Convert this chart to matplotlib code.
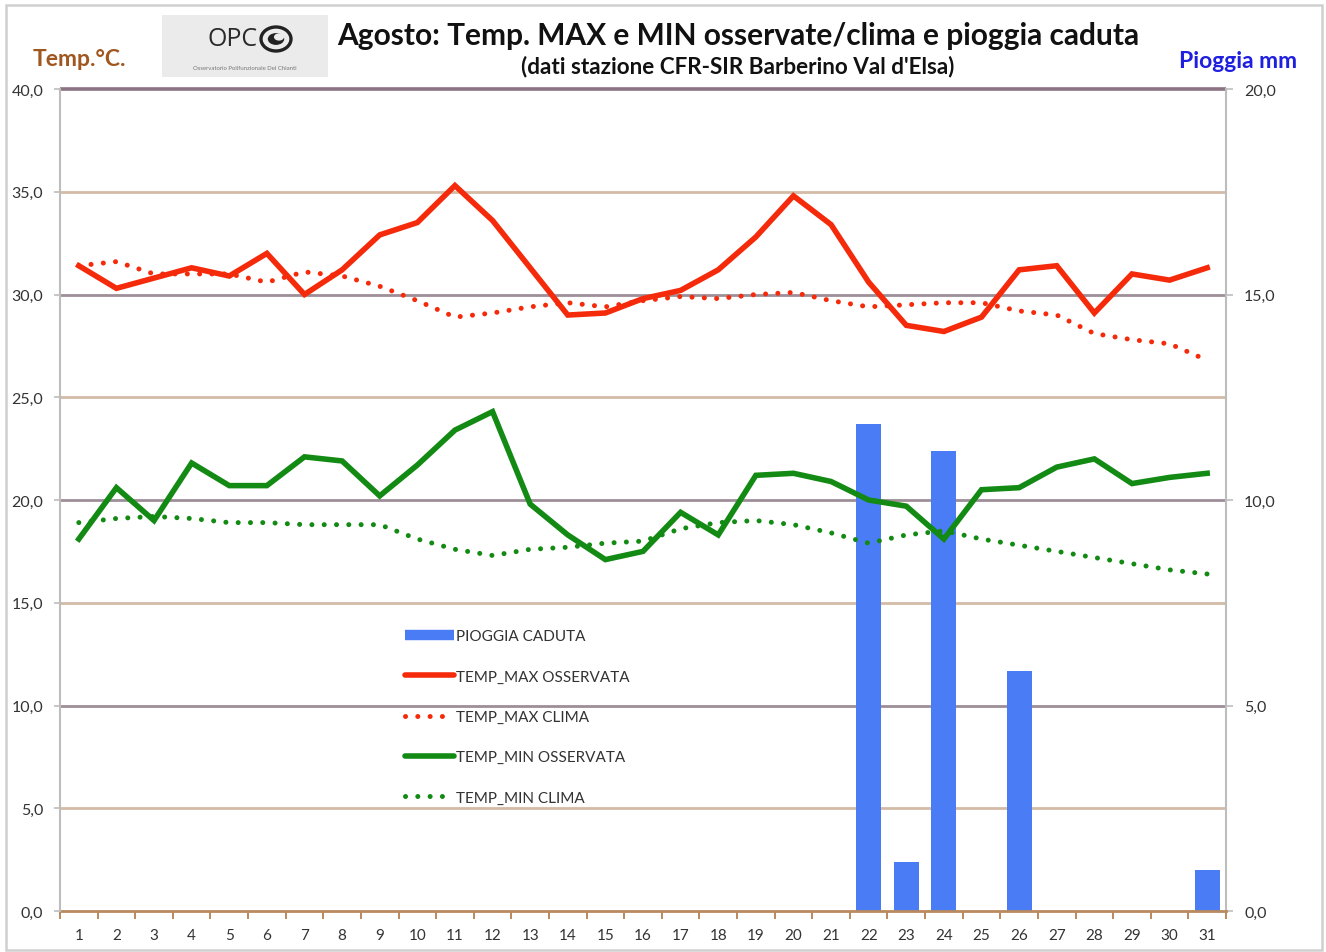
import matplotlib
matplotlib.use("Agg")
import matplotlib.pyplot as plt
import matplotlib.patches as mpatches
from matplotlib.lines import Line2D
from matplotlib.transforms import blended_transform_factory
import numpy as np

# ---------------- data ----------------
days = list(range(1, 32))
tmax_obs = [31.4, 30.3, 30.8, 31.3, 30.9, 32.0, 30.0, 31.2, 32.9, 33.5, 35.3, 33.6, 31.3, 29.0, 29.1,
            29.8, 30.2, 31.2, 32.8, 34.8, 33.4, 30.6, 28.5, 28.2, 28.9, 31.2, 31.4, 29.1, 31.0, 30.7, 31.3]
tmax_clima = [31.4, 31.6, 31.0, 31.0, 31.0, 30.6, 31.1, 30.9, 30.4, 29.7, 28.9, 29.1, 29.4, 29.6, 29.4,
              29.7, 29.9, 29.8, 30.0, 30.1, 29.7, 29.4, 29.5, 29.6, 29.6, 29.2, 29.0, 28.1, 27.8, 27.6, 26.8]
tmin_obs = [18.1, 20.6, 19.0, 21.8, 20.7, 20.7, 22.1, 21.9, 20.2, 21.7, 23.4, 24.3, 19.8, 18.3, 17.1,
            17.5, 19.4, 18.3, 21.2, 21.3, 20.9, 20.0, 19.7, 18.1, 20.5, 20.6, 21.6, 22.0, 20.8, 21.1, 21.3]
tmin_clima = [18.9, 19.1, 19.2, 19.1, 18.9, 18.9, 18.8, 18.8, 18.8, 18.1, 17.6, 17.3, 17.6, 17.7, 17.9,
              18.0, 18.6, 18.9, 19.0, 18.8, 18.4, 17.9, 18.3, 18.5, 18.1, 17.8, 17.5, 17.2, 16.9, 16.6, 16.4]
rain = [0, 0, 0, 0, 0, 0, 0, 0, 0, 0, 0, 0, 0, 0, 0,
        0, 0, 0, 0, 0, 0, 11.85, 1.2, 11.2, 0, 5.85, 0, 0, 0, 0, 1.0]

temp_ticks = [0, 5, 10, 15, 20, 25, 30, 35, 40]
rain_ticks = [0, 5, 10, 15, 20]
legend_labels = ["PIOGGIA CADUTA", "TEMP_MAX OSSERVATA", "TEMP_MAX CLIMA",
                 "TEMP_MIN OSSERVATA", "TEMP_MIN CLIMA"]

# ---------------- style ----------------
FONT = ["Lato", "DejaVu Sans"]
plt.rcParams['font.family'] = FONT
RED = "#F52A0A"
GREEN = "#138A13"
BLUE = "#4A7CF6"
TXT = "#333333"
GRID_A = "#D4BBA6"   # tan
GRID_B = "#9E8E98"   # mauve grey
AXGREY = "#BDBDBD"

W, H = 1326, 953
fig = plt.figure(figsize=(W / 100, H / 100), dpi=100)

# figure frame
fig.patches.append(mpatches.Rectangle((6 / W, 0.002), (1322 - 6) / W, (945 - 0) / H,
                                      transform=fig.transFigure, fill=False,
                                      edgecolor="#D0D0D0", lw=1.8))

L, R, T, B = 60, 1226, 90, 912
rect = [L / W, 1 - B / H, (R - L) / W, (B - T) / H]
ax2 = fig.add_axes(rect)          # rain axis (below)
ax = fig.add_axes(rect, sharex=ax2)  # temperature axis (above)
ax.set_zorder(ax2.get_zorder() + 1)
ax.patch.set_visible(False)

x = np.array(days)

# gridlines (drawn in rain axes, at temperature values)
gtr = blended_transform_factory(ax2.transAxes, ax.transData)
for t in temp_ticks[1:]:
    if t == 40:
        col, lw = "#8C7383", 2.6
    elif t % 10 == 5:
        col, lw = GRID_A, 2.0
    else:
        col, lw = GRID_B, 2.0
    ax2.plot([0, 1], [t, t], transform=gtr, color=col, lw=lw, zorder=0.5,
             solid_capstyle="butt", clip_on=False)

# bars
ax2.bar(x, rain, width=0.66, color=BLUE, zorder=2)

# lines
lw_solid = 4.0
lw_dot = 3.6
dots = (0, (0.01, 2.45))
ax.plot(x, tmax_clima, color=RED, lw=lw_dot, linestyle=dots, dash_capstyle="round", zorder=3)
ax.plot(x, tmin_clima, color=GREEN, lw=lw_dot, linestyle=dots, dash_capstyle="round", zorder=3)
ax.plot(x, tmax_obs, color=RED, lw=lw_solid, solid_joinstyle="miter", zorder=4)
ax.plot(x, tmin_obs, color=GREEN, lw=lw_solid, solid_joinstyle="miter", zorder=4)

# limits
ax.set_xlim(0.5, 31.5)
ax.set_ylim(0, 40)
ax2.set_ylim(0, 20)

def fmt(v):
    return f"{v:.1f}".replace(".", ",")

# temperature axis (left)
ax.yaxis.set_ticks_position("left")
ax.set_yticks(temp_ticks)
ax.set_yticklabels([fmt(v) for v in temp_ticks])
ax.tick_params(axis="y", which="major", length=4, width=1.2, color=AXGREY,
               labelsize=11.5, labelcolor=TXT, pad=8)
# rain axis (right)
ax2.yaxis.set_ticks_position("right")
ax2.set_yticks(rain_ticks)
ax2.set_yticklabels([fmt(v) for v in rain_ticks])
ax2.tick_params(axis="y", which="major", length=5, width=1.2, color=AXGREY,
                labelsize=11.5, labelcolor=TXT, pad=8, direction="out")

# x axis
ax2.set_xticks(days)
ax2.set_xticklabels([str(d) for d in days])
ax2.set_xticks(np.arange(0.5, 32.0, 1.0), minor=True)
ax2.tick_params(axis="x", which="major", length=0, labelsize=11, labelcolor=TXT, pad=12)
ax2.tick_params(axis="x", which="minor", length=6, width=1.4, color="#B88A5E", direction="out")
ax.tick_params(axis="x", which="both", bottom=False, labelbottom=False)

for a in (ax, ax2):
    for s in a.spines.values():
        s.set_visible(False)
ax.spines["left"].set_visible(True)
ax.spines["left"].set_color(AXGREY)
ax.spines["left"].set_linewidth(1.5)
ax2.spines["right"].set_visible(True)
ax2.spines["right"].set_color(AXGREY)
ax2.spines["right"].set_linewidth(1.5)
ax2.spines["bottom"].set_visible(True)
ax2.spines["bottom"].set_color("#B88A5E")
ax2.spines["bottom"].set_linewidth(2.0)
ax2.spines["bottom"].set_zorder(5)

# legend (proxies styled like the series)
handles = [
    Line2D([], [], color=BLUE, lw=7.5, solid_capstyle="butt"),
    Line2D([], [], color=RED, lw=lw_solid, solid_capstyle="round"),
    Line2D([], [], color=RED, lw=lw_dot, linestyle=dots, dash_capstyle="round"),
    Line2D([], [], color=GREEN, lw=lw_solid, solid_capstyle="round"),
    Line2D([], [], color=GREEN, lw=lw_dot, linestyle=dots, dash_capstyle="round"),
]
leg = ax.legend(handles, legend_labels, loc="upper left",
                bbox_to_anchor=(405 / W, 1 - 630 / H), bbox_transform=fig.transFigure,
                frameon=False, fontsize=11, handlelength=3.2, handletextpad=0.15,
                labelspacing=1.73, borderpad=0, borderaxespad=0)
for t in leg.get_texts():
    t.set_color(TXT)

# titles and axis titles
fig.text(738 / W, 1 - 36 / H, "Agosto: Temp. MAX e MIN osservate/clima e pioggia caduta",
         ha="center", va="center", fontsize=21.5, fontweight="bold", color="#111111")
fig.text(738 / W, 1 - 67 / H, "(dati stazione CFR-SIR Barberino Val d'Elsa)",
         ha="center", va="center", fontsize=16.2, fontweight="bold", color="#111111")
fig.text(79 / W, 1 - 59 / H, "Temp.°C.", ha="center", va="center", fontsize=16.5,
         fontweight="bold", color="#A0561F")
fig.text(1238 / W, 1 - 62 / H, "Pioggia mm", ha="center", va="center", fontsize=16.5,
         fontweight="bold", color="#1F1FE0")

# logo box
fig.patches.append(mpatches.Rectangle((162 / W, 1 - 78 / H), 166 / W, 62 / H,
                                      transform=fig.transFigure, facecolor="#EBEBEB",
                                      edgecolor="none", zorder=0))
fig.text(233 / W, 1 - 40 / H, "OPC", ha="center", va="center", fontsize=18,
         color="#2A2A2A", family=["Open Sans", "DejaVu Sans"])
# eye symbol
ex, ey = 276, 40
fig.patches.append(mpatches.Ellipse((ex / W, 1 - ey / H), 30 / W, 24 / H, transform=fig.transFigure,
                                    fill=False, edgecolor="#222222", lw=2.4, zorder=2))
fig.patches.append(mpatches.Circle((ex / W, 1 - ey / H), 0.0062, transform=fig.transFigure,
                                   facecolor="#222222", edgecolor="none", zorder=2))
fig.patches.append(mpatches.Circle(((ex + 3) / W, 1 - (ey - 2) / H), 0.0038, transform=fig.transFigure,
                                   facecolor="#EBEBEB", edgecolor="none", zorder=3))
fig.text(245 / W, 1 - 68 / H, "Osservatorio Polifunzionale Del Chianti", ha="center", va="center",
         fontsize=4.3, color="#777777")

fig.savefig("out.png", dpi=100)
